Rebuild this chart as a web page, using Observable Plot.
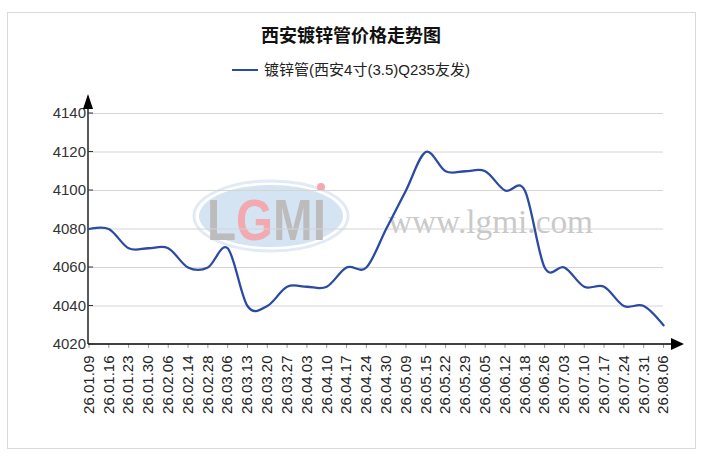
<!DOCTYPE html>
<html>
<head>
<meta charset="utf-8">
<script src="https://cdn.jsdelivr.net/npm/d3@7"></script>
<script src="https://cdn.jsdelivr.net/npm/@observablehq/plot@0.6"></script>
<style>
  html, body { margin: 0; padding: 0; background: #fff; }
  #wrap { position: relative; width: 702px; height: 456px; overflow: hidden; font-family: "Liberation Sans", Arial, "Noto Sans CJK SC", sans-serif; }
  #frame { position: absolute; left: 7px; top: 12px; width: 687px; height: 435px; border: 1px solid #d9d9d9; }
  #title { position: absolute; left: 0; top: 23px; width: 702px; text-align: center; font-size: 18px; line-height: 22px; font-weight: bold; color: #111; font-family: "Noto Sans CJK SC", sans-serif; }
  #legend { position: absolute; left: 0; top: 60px; width: 702px; display: flex; justify-content: center; align-items: center; font-size: 15px; line-height: 20px; color: #222; font-family: "Liberation Sans", "Noto Sans CJK SC", sans-serif; }
  #legend .sw { display: inline-block; width: 26px; height: 0; border-top: 2.6px solid #2b4aa3; margin-right: 6px; }
  #chart { position: absolute; left: 0; top: 85px; }
</style>
</head>
<body>
<div id="wrap">
  <div id="frame"></div>
  <div id="title"></div>
  <div id="legend"><span class="sw"></span><span id="legendText"></span></div>
  <div id="chart"></div>
</div>
<script>
const titleText = "西安镀锌管价格走势图";
const seriesName = "镀锌管(西安4寸(3.5)Q235友发)";
const dates = ["26.01.09","26.01.16","26.01.23","26.01.30","26.02.06","26.02.14","26.02.28","26.03.06","26.03.13","26.03.20","26.03.27","26.04.03","26.04.10","26.04.17","26.04.24","26.04.30","26.05.09","26.05.15","26.05.22","26.05.29","26.06.05","26.06.12","26.06.18","26.06.26","26.07.03","26.07.10","26.07.17","26.07.24","26.07.31","26.08.06"];
const prices = [4080,4080,4070,4070,4070,4060,4060,4070,4040,4040,4050,4050,4050,4060,4060,4080,4100,4120,4110,4110,4110,4100,4100,4060,4060,4050,4050,4040,4040,4030];
const yTicks = [4020,4040,4060,4080,4100,4120,4140];

document.getElementById("title").textContent = titleText;
document.getElementById("legendText").textContent = seriesName;

const data = dates.map((d, i) => ({idx: i, date: d, price: prices[i]}));
const xIdx = dates.map((d, i) => i);
const lineColor = "#2b4aa3";

const plot = Plot.plot({
  width: 702,
  height: 355,
  marginLeft: 88.5,
  marginRight: 39,
  marginTop: 28,
  marginBottom: 96,
  style: {background: "transparent", fontFamily: "Liberation Sans, Arial, sans-serif", fontSize: "15px", color: "#222"},
  x: {type: "linear", domain: [0, dates.length - 1]},
  y: {domain: [4020, 4140]},
  marks: [
    Plot.gridY(yTicks.slice(1), {stroke: "#d4d4d4", strokeOpacity: 1, strokeWidth: 1}),
    Plot.axisY(yTicks, {tickSize: 0, tickPadding: 3, fontSize: 15, fill: "#333", tickFormat: d => String(d), label: null}),
    Plot.axisX(xIdx, {tickSize: 4, stroke: "#9a9a9a", tickFormat: () => "", label: null}),
    Plot.axisX(xIdx, {tickSize: 0, tickPadding: 11, tickRotate: -90, fontSize: 15, fill: "#222", tickFormat: i => dates[i], label: null}),
    Plot.line(data, {x: "idx", y: "price", stroke: lineColor, strokeWidth: 2.3, curve: "cardinal"})
  ]
});

document.getElementById("chart").appendChild(plot);

// Decorations using the plot's own scales
const sx = plot.scale("x"), sy = plot.scale("y");
const x0 = sx.apply(0) - 0.5;
const xEnd = sx.apply(dates.length - 1);
const yBase = sy.apply(4020);
const yTop = sy.apply(4140);
const svg = d3.select(plot);

// watermark beneath everything (decorative, not data)
const wm = svg.insert("g", ":first-child").attr("pointer-events", "none").attr("text-anchor", "start");
const cx = 271, cy = 131;
wm.append("ellipse").attr("cx", cx).attr("cy", cy).attr("rx", 77).attr("ry", 35)
  .attr("fill", "none").attr("stroke", "#e2ebf5").attr("stroke-width", 3);
wm.append("ellipse").attr("cx", cx).attr("cy", cy).attr("rx", 72).attr("ry", 31)
  .attr("fill", "#d5e4f3");
const logo = wm.append("text").attr("transform", "translate(207,155) scale(0.82,1)")
  .attr("text-anchor", "start")
  .attr("font-family", "Liberation Sans, Arial, sans-serif").attr("font-weight", "bold")
  .attr("font-size", 58);
logo.append("tspan").attr("fill", "#bcbcbc").text("L");
logo.append("tspan").attr("fill", "#f2a9b0").text("G");
logo.append("tspan").attr("fill", "#bcbcbc").text("MI");
wm.append("circle").attr("cx", 321).attr("cy", 102).attr("r", 4).attr("fill", "#f2a9b0");
wm.append("text").attr("x", 388).attr("y", 148).attr("text-anchor", "start")
  .attr("font-family", "Liberation Serif, Times New Roman, serif").attr("font-size", 34)
  .attr("textLength", 205).attr("lengthAdjust", "spacingAndGlyphs")
  .attr("fill", "#c9c9c9").text("www.lgmi.com");

// axis lines with arrowheads
const deco = svg.append("g");
deco.append("line").attr("x1", x0).attr("x2", xEnd + 8).attr("y1", yBase).attr("y2", yBase)
  .attr("stroke", "#000").attr("stroke-width", 1.3);
deco.append("path").attr("d", `M${xEnd + 8},${yBase - 6}L${xEnd + 21},${yBase}L${xEnd + 8},${yBase + 6}Z`).attr("fill", "#000");
deco.append("line").attr("x1", x0).attr("x2", x0).attr("y1", yBase).attr("y2", yTop - 5)
  .attr("stroke", "#000").attr("stroke-width", 1.3);
deco.append("path").attr("d", `M${x0 - 5},${yTop - 4}L${x0},${yTop - 19}L${x0 + 5},${yTop - 4}Z`).attr("fill", "#000");
// inward y ticks
yTicks.forEach(v => {
  deco.append("line").attr("x1", x0).attr("x2", x0 + 5).attr("y1", sy.apply(v)).attr("y2", sy.apply(v))
    .attr("stroke", "#333").attr("stroke-width", 1);
});
// bring line to front
svg.selectAll("g[aria-label='line']").raise();
</script>
</body>
</html>
